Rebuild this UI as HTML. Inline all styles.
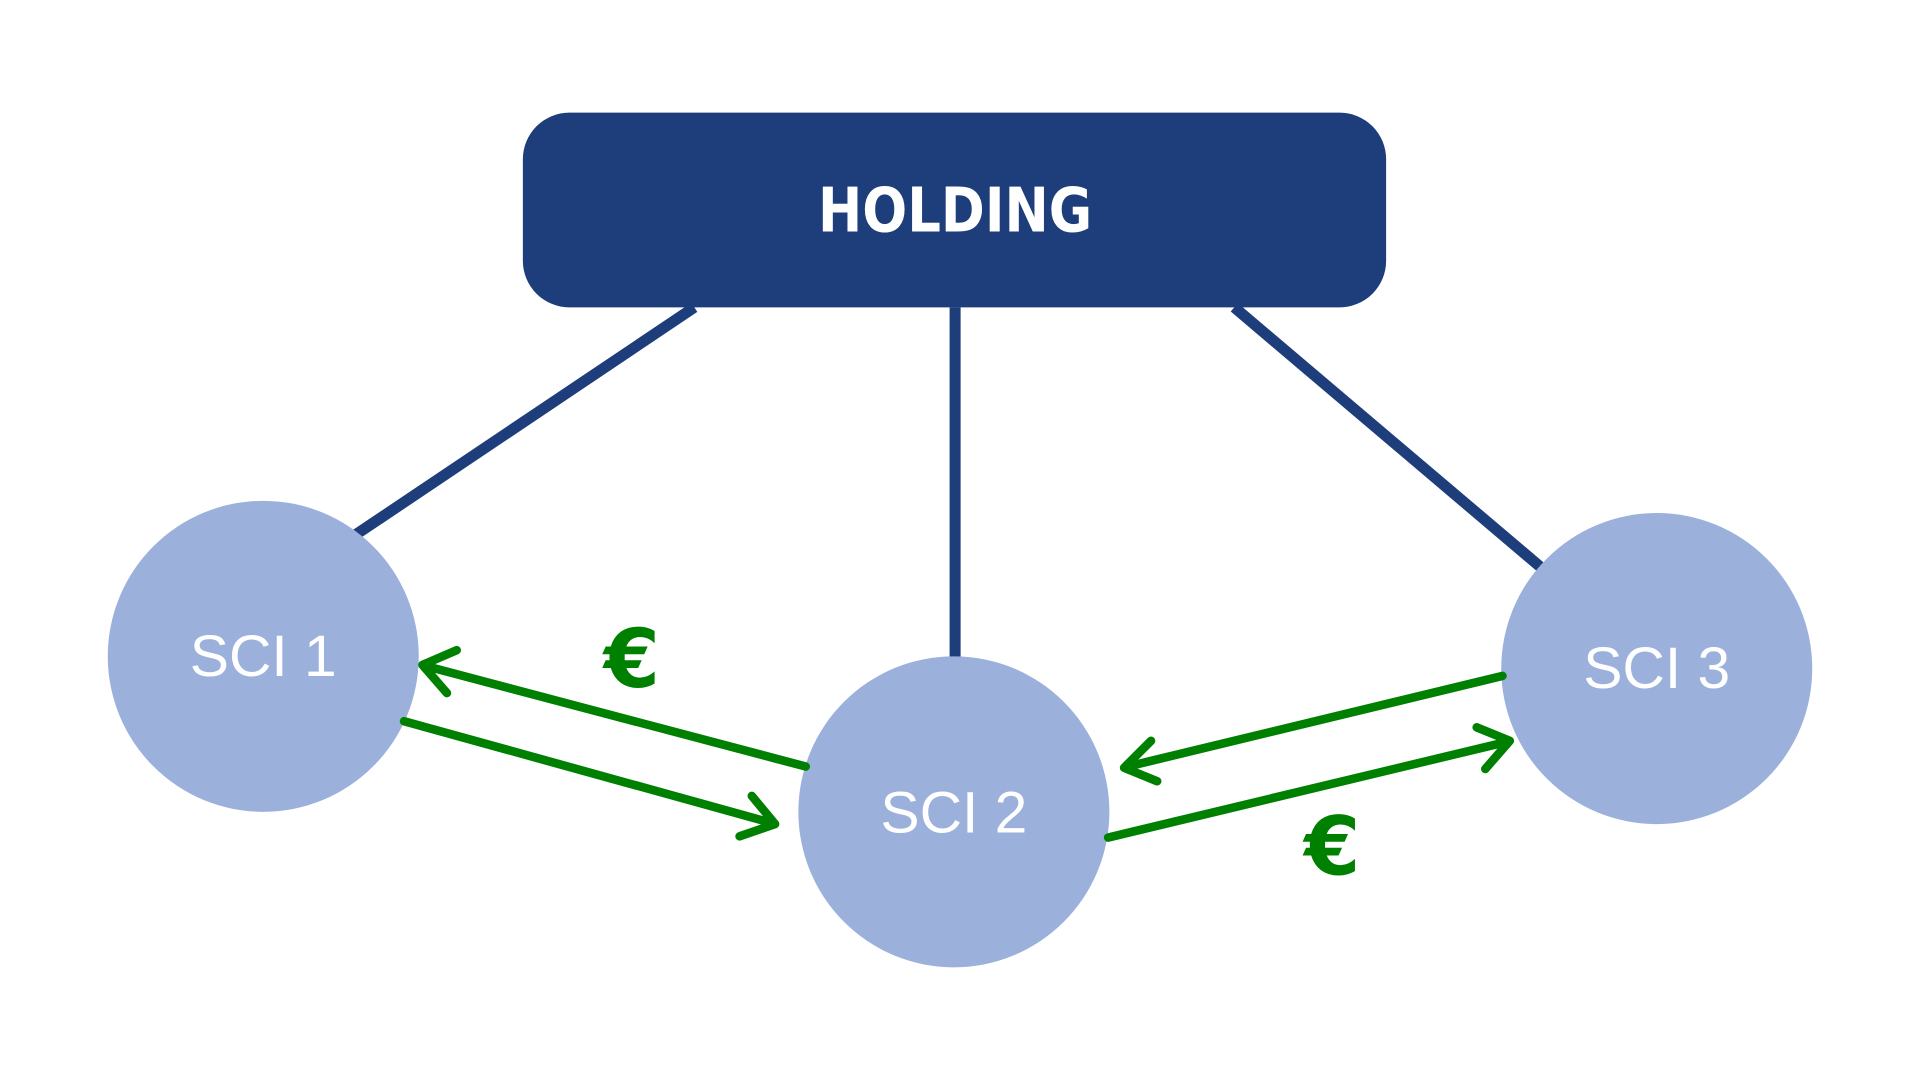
<!DOCTYPE html>
<html><head><meta charset="utf-8"><style>
html,body{margin:0;padding:0;background:#fff;width:1920px;height:1080px;overflow:hidden}
svg{display:block}
</style></head><body>
<svg width="1920" height="1080" viewBox="0 0 1568 882" preserveAspectRatio="none" xmlns="http://www.w3.org/2000/svg">
<rect width="1568" height="882" fill="#fff"/>
<g stroke="#1e3d7b" stroke-width="9" fill="none">
<line x1="567" y1="251" x2="290" y2="437"/>
<line x1="780" y1="251" x2="780" y2="537"/>
<line x1="1008" y1="251" x2="1258" y2="463"/>
</g>
<rect x="427" y="92" width="705" height="159" rx="38" fill="#1e3d7b"/>
<text x="780" y="189" text-anchor="middle" font-family="DejaVu Sans, sans-serif" font-weight="bold" font-size="50" fill="#fff" textLength="224" lengthAdjust="spacingAndGlyphs">HOLDING</text>
<g fill="#9bb1dc">
<circle cx="215" cy="536" r="127"/>
<circle cx="779" cy="663" r="127"/>
<circle cx="1353" cy="546" r="127"/>
</g>
<g font-family="Liberation Sans, sans-serif" font-size="48" fill="#fff" text-anchor="middle" font-weight="300">
<text x="215" y="552">SCI 1</text>
<text x="779" y="680">SCI 2</text>
<text x="1353" y="562">SCI 3</text>
</g>
<g stroke="#008000" stroke-width="7" fill="none" stroke-linecap="round" stroke-linejoin="round">
<line x1="658" y1="626" x2="348" y2="544"/>
<polyline points="373,531 345,543 365,566"/>
<line x1="330" y1="589" x2="630" y2="672"/>
<polyline points="614,650 633,673 604,683"/>
<line x1="1227" y1="552" x2="921" y2="626"/>
<polyline points="940,605 918,627 945,638"/>
<line x1="905" y1="684" x2="1230" y2="606"/>
<polyline points="1206,594 1233,605 1213,628"/>
</g>
<g font-family="DejaVu Sans, sans-serif" font-weight="bold" font-size="66" fill="#008000" text-anchor="middle">
<text x="516" y="561">€</text>
<text x="1088" y="714">€</text>
</g>
</svg>
</body></html>
